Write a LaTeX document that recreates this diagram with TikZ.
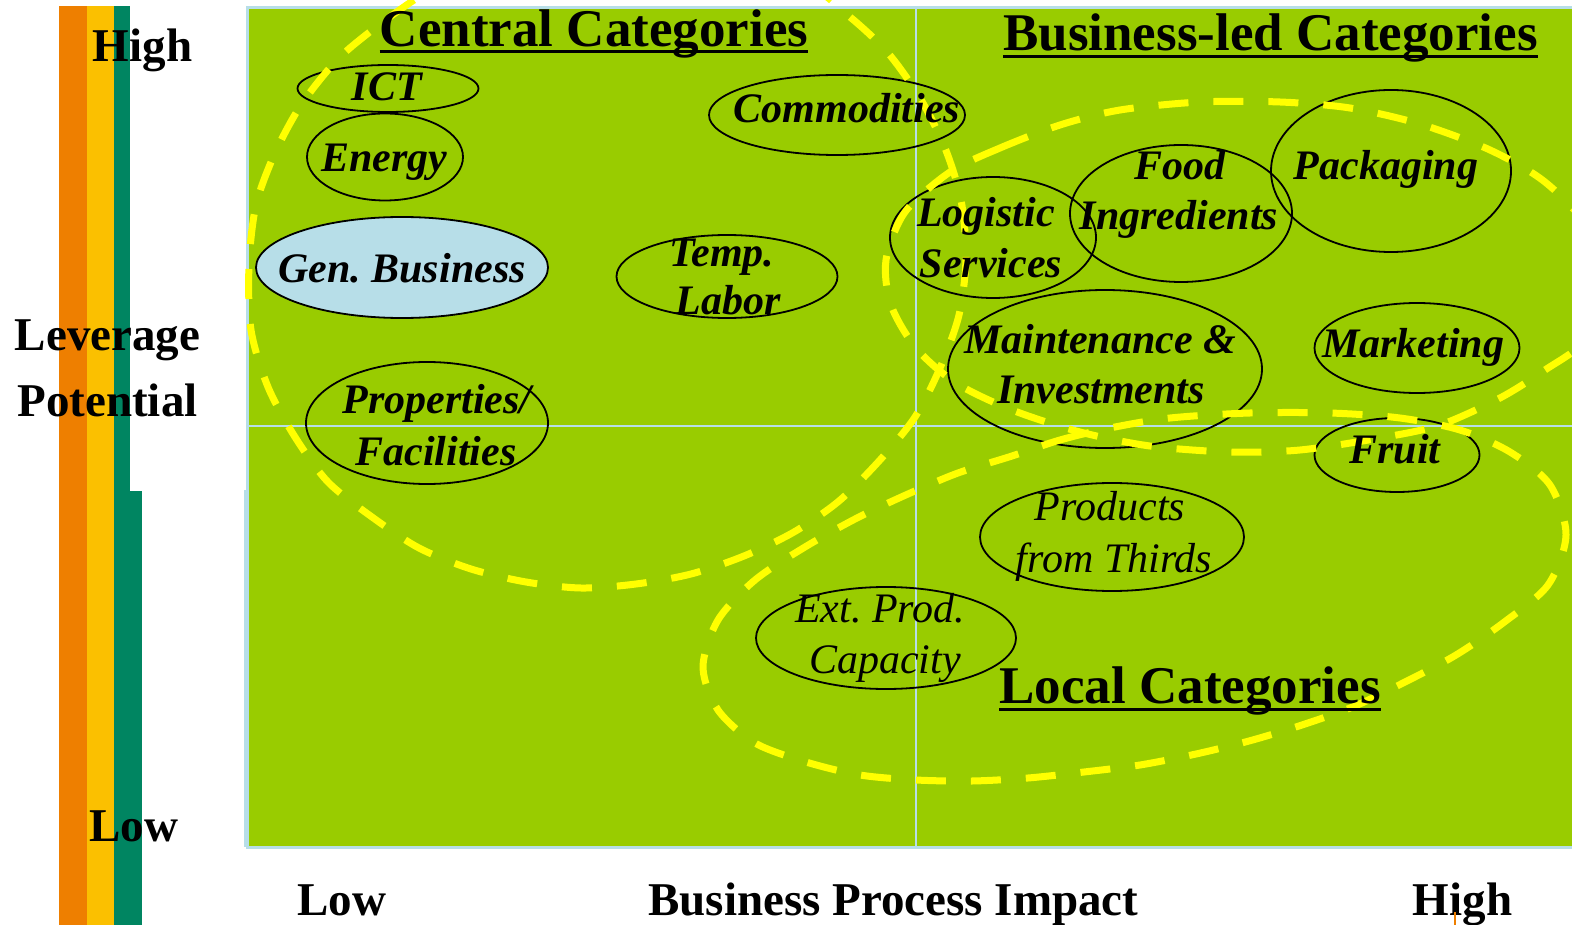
\documentclass[tikz,border=0pt]{standalone}
\usepackage{fontspec}
\setmainfont{Liberation Serif}
\usetikzlibrary{shapes.geometric}
\frenchspacing
\definecolor{plotgreen}{HTML}{99CC00}
\definecolor{lblue}{HTML}{B7DEE8}
\definecolor{barorange}{HTML}{EE7F00}
\definecolor{baryellow}{HTML}{FBC000}
\definecolor{bargreen}{HTML}{008561}
\definecolor{dashyellow}{HTML}{FFFF00}
\tikzset{
  cat/.style={shape=ellipse, draw=black, line width=1.8pt, inner sep=0pt},
  lbl/.style={inner sep=0pt, anchor=base, font=\fontsize{42}{48}\selectfont\bfseries\itshape},
  lblr/.style={inner sep=0pt, anchor=base, font=\fontsize{42}{48}\selectfont\itshape},
  head/.style={inner sep=0pt, anchor=base, font=\fontsize{53}{60}\selectfont\bfseries},
  axis/.style={inner sep=0pt, anchor=base, font=\fontsize{47}{54}\selectfont\bfseries},
  group/.style={draw=dashyellow, line width=7pt, dash pattern=on 30pt off 25pt},
  uline/.style={line width=3pt, black},
}
\begin{document}
\begin{tikzpicture}[x=1pt,y=-1pt]
\useasboundingbox (0,0) rectangle (1572,925);
\clip (0,0) rectangle (1572,925);
% left bars
\fill[barorange] (59,6) rectangle (87,925);
\fill[baryellow] (87,6) rectangle (114,925);
\fill[bargreen] (114,6) rectangle (142,925);
\fill[white] (130,0) rectangle (244,491);
% plot area
\fill[plotgreen] (247,8) rectangle (1590,847);
\draw[lblue, line width=2.5pt] (916,8) -- (916,847);
\draw[lblue, line width=2.5pt] (247,426) -- (1590,426);
\draw[lblue, line width=3pt] (247,8) rectangle (1590,847);
\draw[lblue, line width=2pt] (245,490) -- (245,847);
% category ellipses
\node[cat, minimum width=181pt, minimum height=47pt] (eict) at (388,88.5) {};
\node[cat, minimum width=156pt, minimum height=87pt] (eenergy) at (385,157) {};
\node[cat, fill=lblue, minimum width=292pt, minimum height=101pt] (egen) at (402,267.5) {};
\node[cat, minimum width=221pt, minimum height=83pt] (etemp) at (727,276.5) {};
\node[cat, minimum width=256pt, minimum height=80pt] (ecomm) at (837,115) {};
\node[cat, minimum width=242pt, minimum height=122pt] (eprop) at (427,423) {};
\node[cat, minimum width=206pt, minimum height=121pt] (elog) at (993,237.5) {};
\node[cat, minimum width=222pt, minimum height=137pt] (efood) at (1181,213.5) {};
\node[cat, minimum width=240pt, minimum height=162pt] (epack) at (1391,171) {};
\node[cat, minimum width=314pt, minimum height=158pt] (emaint) at (1105,369) {};
\node[cat, minimum width=205pt, minimum height=90pt] (emark) at (1417,348) {};
\node[cat, minimum width=165pt, minimum height=74pt] (efruit) at (1397,455) {};
\node[cat, minimum width=264pt, minimum height=108pt] (eprod) at (1112,537) {};
\node[cat, minimum width=260pt, minimum height=102pt] (eext) at (886,638) {};
% yellow dashed groups
\draw[group] plot[smooth cycle] coordinates {(470,-35) (414,0) (371,31) (336,61) (301,105) (275,153) (256,205) (249,265) (251,330) (268,387) (295,437) (328,482) (372,517) (419,548) (471,569) (526,582) (581,588) (636,584) (691,574) (744,556) (794,532) (839,501) (880,460) (915,417) (940,368) (959,315) (966,258) (961,200) (945,148) (920,98) (888,53) (850,17) (800,-20) (700,-45) (590,-50)};
\draw[group] plot[smooth cycle] coordinates {(950,172) (1000,148) (1060,125) (1120,110) (1200,102) (1280,102) (1350,108) (1420,124) (1490,150) (1545,182) (1590,230) (1605,285) (1585,340) (1545,370) (1500,398) (1440,425) (1380,438) (1300,450) (1230,452) (1150,446) (1080,432) (1012,410) (956,383) (916,348) (891,305) (886,260) (905,212)};
\draw[group] plot[smooth cycle] coordinates {(1012,456) (1060,440) (1110,428) (1170,418) (1250,413) (1330,413) (1400,418) (1460,430) (1510,452) (1550,485) (1566,535) (1548,585) (1503,623) (1456,655) (1407,681) (1355,706) (1302,725) (1249,741) (1196,754) (1140,765) (1084,772) (1028,778) (972,781) (916,780) (860,775) (806,762) (755,743) (718,710) (703,667) (718,620) (755,580) (805,547) (857,518) (908,494) (958,473)};
% labels
\node[lbl] (tict) at (387,101) {ICT};
\node[lbl] (tenergy) at (384,172) {Energy};
\node[lbl] (tgen) at (402,283) {Gen. Business};
\node[lbl] (ttemp1) at (722,267) {Temp.};
\node[lbl] (ttemp2) at (728,315) {Labor};
\node[lbl] (tcomm) at (847,123) {Commodities};
\node[lbl] (tprop1) at (437,413) {Properties/};
\node[lbl] (tprop2) at (436,465) {Facilities};
\node[lbl] (tlog1) at (986,227) {Logistic};
\node[lbl] (tlog2) at (991,278) {Services};
\node[lbl] (tfood1) at (1180,180) {Food};
\node[lbl] (tfood2) at (1179,230) {Ingredients};
\node[lbl] (tpack) at (1386,180) {Packaging};
\node[lbl] (tmaint1) at (1100,353) {Maintenance \&};
\node[lbl] (tmaint2) at (1101,403) {Investments};
\node[lbl] (tmark) at (1413,358) {Marketing};
\node[lbl] (tfruit) at (1395,463) {Fruit};
\node[lblr] (tprod1) at (1110,520) {Products};
\node[lblr] (tprod2) at (1114,572) {from Thirds};
\node[lblr] (text1) at (880,622) {Ext. Prod.};
\node[lblr] (text2) at (885,673) {Capacity};
% headings
\node[head] (hcen) at (594,47) {Central Categories};
\draw[uline] ([yshift=-5pt]hcen.base west) -- ([yshift=-5pt]hcen.base east);
\node[head] (hbus) at (1270.5,51) {Business-led Categories};
\draw[uline] ([yshift=-6pt]hbus.base west) -- ([yshift=-6pt]hbus.base east);
\node[head] (hloc) at (1190,703) {Local Categories};
\draw[uline] ([yshift=-6pt]hloc.base west) -- ([yshift=-6pt]hloc.base east);
% axis texts
\node[axis] (yhigh) at (142.5,62) {High};
\node[axis] (ylev) at (107.5,351) {Leverage};
\node[axis] (ypot) at (107.5,416) {Potential};
\node[axis] (ylow) at (134,841) {Low};
\node[axis] (xlow) at (342,915) {Low};
\node[axis] (xbpi) at (893.5,915) {Business Process Impact};
\node[axis] (xhigh) at (1462.5,915) {High};
\draw[barorange, line width=1.5pt] (1455,912) -- (1455,925);
\end{tikzpicture}
\end{document}
